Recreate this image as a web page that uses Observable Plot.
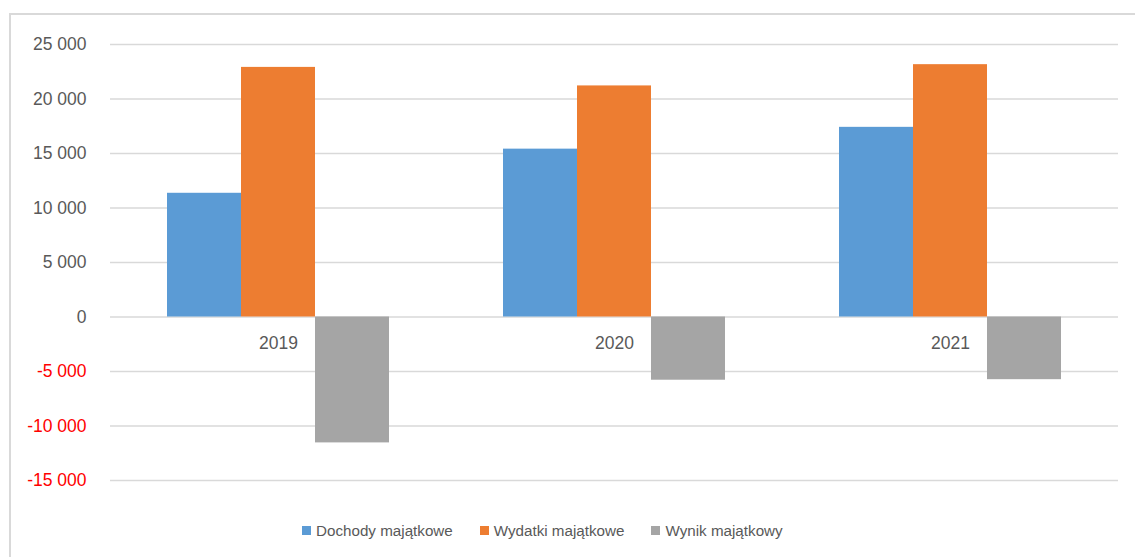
<!DOCTYPE html>
<html>
<head>
<meta charset="utf-8">
<script src="https://cdn.jsdelivr.net/npm/d3@7"></script>
<script src="https://cdn.jsdelivr.net/npm/@observablehq/plot@0.6"></script>
<style>
  html, body { margin: 0; padding: 0; background: #fff; overflow: hidden; width: 1135px; height: 557px; }
  #frame { position: absolute; left: 9px; top: 13px; width: 1200px; height: 700px; border: 2px solid #d9d9d9; box-sizing: border-box; }
  #chart { position: absolute; left: 0; top: 0; }
  #legend { position: absolute; left: 302px; top: 516px; height: 28px; display: flex; align-items: center; gap: 27px;
            font-family: "Liberation Sans", Arial, sans-serif; font-size: 15.2px; color: #595959; }
  #legend .item { display: flex; align-items: center; }
  #legend .sw { width: 9px; height: 9px; margin-right: 5px; }
</style>
</head>
<body>
<div id="frame"></div>
<div id="chart"></div>
<div id="legend"></div>
<script>
const years = ["2019", "2020", "2021"];
const seriesNames = ["Dochody majątkowe", "Wydatki majątkowe", "Wynik majątkowy"];
const seriesColors = ["#5b9bd5", "#ed7d31", "#a5a5a5"];
const dochody = [11350, 15400, 17400];
const wydatki = [22900, 21200, 23150];
const wynik = [-11550, -5800, -5750];
const yTicks = [25000, 20000, 15000, 10000, 5000, 0, -5000, -10000, -15000];

const seriesValues = [dochody, wydatki, wynik];
const data = [];
years.forEach((yr, i) => {
  seriesNames.forEach((s, j) => data.push({year: yr, series: s, value: seriesValues[j][i]}));
});

const fmt = d3.formatLocale({thousands: " ", grouping: [3], decimal: ",", minus: "-"}).format(",");
const font = '"Liberation Sans", Arial, sans-serif';

const chart = Plot.plot({
  width: 1135,
  height: 500,
  marginLeft: 110,
  marginRight: 17,
  marginTop: 44,
  marginBottom: 20,
  style: {fontFamily: font, fontSize: "17.5px", color: "#595959", background: "transparent"},
  fx: {domain: years, padding: 0, axis: null},
  x: {domain: seriesNames, paddingInner: 0, paddingOuter: 0.77, axis: null},
  y: {domain: [-15000, 25000], axis: null},
  color: {domain: seriesNames, range: seriesColors},
  marks: [
    Plot.ruleY(yTicks, {stroke: "#d9d9d9", strokeWidth: 1.3}),
    Plot.barY(data, {fx: "year", x: "series", y: "value", fill: "series", inset: 0}),
    Plot.text(years, {fx: d => d, y: 0, text: d => d, dy: 26, fill: "#595959", fontSize: 17.5, lineAnchor: "middle"}),
    Plot.axisY(yTicks.filter(d => d >= 0), {tickSize: 0, tickPadding: 24, tickFormat: fmt, fill: "#595959", fontSize: 17.5, label: null}),
    Plot.axisY(yTicks.filter(d => d < 0), {tickSize: 0, tickPadding: 24, tickFormat: fmt, fill: "#ff0000", fontSize: 17.5, label: null})
  ]
});
document.getElementById("chart").appendChild(chart);

const legend = document.getElementById("legend");
seriesNames.forEach((s, i) => {
  const item = document.createElement("div");
  item.className = "item";
  const sw = document.createElement("span");
  sw.className = "sw";
  sw.style.background = seriesColors[i];
  const label = document.createElement("span");
  label.textContent = s;
  item.appendChild(sw);
  item.appendChild(label);
  legend.appendChild(item);
});
</script>
</body>
</html>
